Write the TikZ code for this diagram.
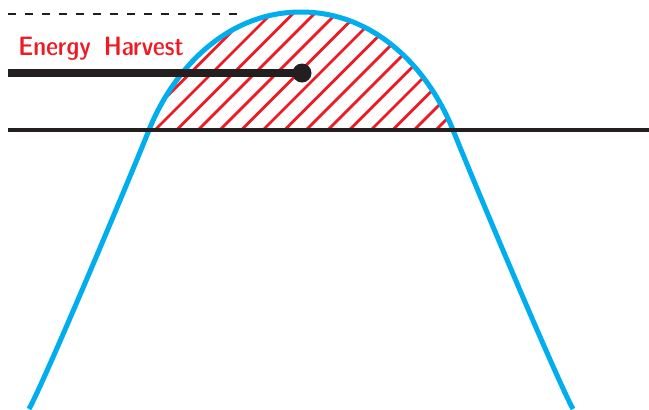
\documentclass[tikz,border=0pt]{standalone}
\usetikzlibrary{positioning}
\definecolor{harvestred}{RGB}{237,28,36}
\definecolor{curveblue}{RGB}{0,174,239}
\definecolor{inkblack}{RGB}{35,31,32}
\tikzset{
	wave/.style={draw=curveblue, line width=2.5pt},
	hatchline/.style={draw=harvestred, line width=1.4pt},
	level/.style={draw=inkblack, line width=1.7pt},
	peakline/.style={draw=inkblack, line width=1.3pt, dash pattern=on 4pt off 4.5pt},
	marker/.style={draw=inkblack, line width=3.7pt},
}
\begin{document}
\begin{tikzpicture}[x=0.5pt, y=-0.5pt]
	\useasboundingbox (0,0) rectangle (649,409);
	% hatched area between the level line and the wave
	\begin{scope}
		\clip (0,0) rectangle (649,130);
		\clip (29,409) .. controls (45,380) and (129,180) .. (149,130)
			.. controls (173,70) and (226,12) .. (301,12)
			.. controls (376,12) and (429,70) .. (453,130)
			.. controls (473,180) and (557,380) .. (573,409) -- cycle;
		\foreach \k in {-7,...,15} {
			\draw[hatchline] (155+21.6*\k,130) -- ++(130,-130);
		}
	\end{scope}
	
	% the wave
	\draw[wave] (29,409) .. controls (45,380) and (129,180) .. (149,130)
		.. controls (173,70) and (226,12) .. (301,12)
		.. controls (376,12) and (429,70) .. (453,130)
		.. controls (473,180) and (557,380) .. (573,409);
	% level line
	\coordinate (levelL) at (8,130);
	\coordinate (levelR) at (649,130);
	\draw[level] (levelL) -- (levelR);
	% peak line (dashed)
	\coordinate (peakL) at (8,14);
	\coordinate (peakR) at (243,14);
	\draw[peakline] (peakL) -- (peakR);
	% harvest marker and label
	\node[circle, fill=inkblack, minimum size=9.5pt, inner sep=0pt] (tip) at (302,73) {};
	\coordinate (markerL) at (8,73);
	\draw[marker] (markerL) -- (tip.center);
	\node[anchor=base west, inner sep=0pt, text=harvestred, font=\sffamily\fontseries{sbc}\fontsize{13.3}{15}\selectfont] (harvest) at (18,55) {Energy\hspace{6.5pt}Harvest};
\end{tikzpicture}
\end{document}
